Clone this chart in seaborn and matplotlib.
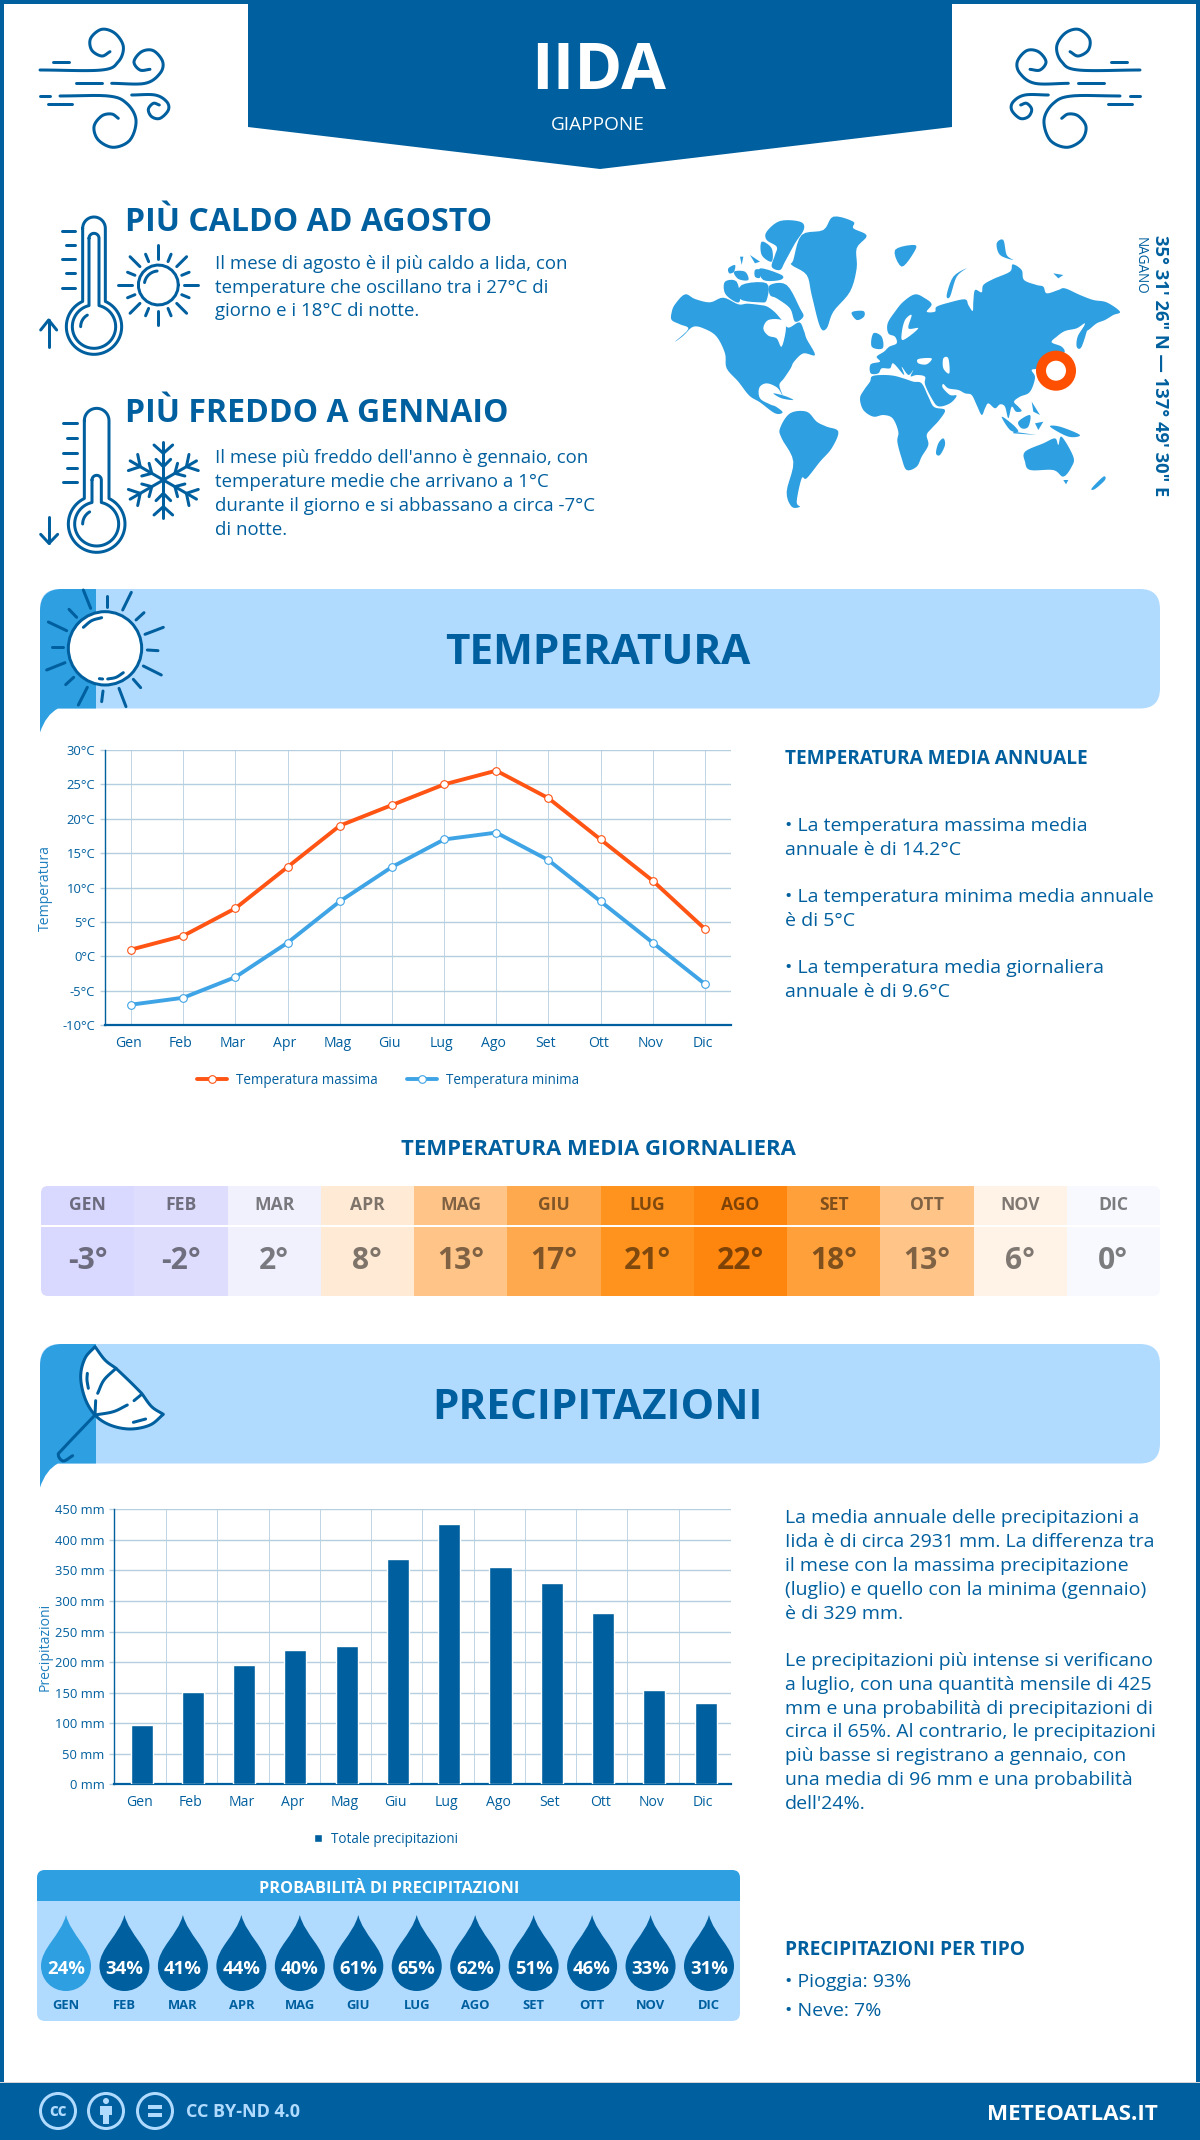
import numpy as np
import pandas as pd
import matplotlib
matplotlib.use("Agg")
import matplotlib.pyplot as plt
import seaborn as sns
from matplotlib.colors import ListedColormap
from matplotlib.patches import Polygon, Circle, PathPatch, FancyBboxPatch, Rectangle
from matplotlib.path import Path
from matplotlib.transforms import ScaledTranslation

# ---------- data ----------
months = ["Gen", "Feb", "Mar", "Apr", "Mag", "Giu", "Lug", "Ago", "Set", "Ott", "Nov", "Dic"]
months_upper = [m.upper() for m in months]
temp_max = [1, 3, 7, 13, 19, 22, 25, 27, 23, 17, 11, 4]
temp_min = [-7, -6, -3, 2, 8, 13, 17, 18, 14, 8, 2, -4]
temp_daily = [-3, -2, 2, 8, 13, 17, 21, 22, 18, 13, 6, 0]
precip_mm = [97, 151, 195, 220, 226, 369, 426, 356, 330, 280, 154, 133]
rain_prob = [24, 34, 41, 44, 40, 61, 65, 62, 51, 46, 33, 31]
temp_ticks = [-10, -5, 0, 5, 10, 15, 20, 25, 30]
temp_ticklabels = ["-10°C", "-5°C", "0°C", "5°C", "10°C", "15°C", "20°C", "25°C", "30°C"]
precip_ticks = [0, 50, 100, 150, 200, 250, 300, 350, 400, 450]
precip_ticklabels = ["0 mm", "50 mm", "100 mm", "150 mm", "200 mm", "250 mm", "300 mm", "350 mm", "400 mm", "450 mm"]
cell_colours = ["#D9D8FE", "#DEDDFE", "#F1F1FE", "#FFEAD6", "#FFC488", "#FFA94F",
                "#FF931E", "#FF860E", "#FFA03A", "#FFC488", "#FFF2E6", "#F8F9FE"]

BLUE = "#005F9E"
MID = "#2E9FE0"
LIGHT = "#B0DBFF"
ORANGE = "#FF5414"
LINEBLUE = "#3FA4E5"
GRID = "#B5CEE0"
F = ["Open Sans", "DejaVu Sans"]

sns.set_theme(style="white")
plt.rcParams["font.family"] = F

W, H = 1200, 2140
fig = plt.figure(figsize=(W / 100, H / 100), dpi=100, facecolor="white")
bg = fig.add_axes([0, 0, 1, 1], zorder=0)
bg.set_xlim(0, W)
bg.set_ylim(H, 0)
bg.axis("off")


def T(x, y, s, px, color=BLUE, weight="normal", ha="left", va="baseline", rot=0, alpha=None):
    return bg.text(x, y, s, fontsize=px * 0.72, color=color, fontweight=weight, ha=ha, va=va,
                   rotation=rot, alpha=alpha, family=F, rotation_mode="anchor")


def stroke(pts, lw=3, color=BLUE, z=3):
    pts = np.asarray(pts, float)
    bg.plot(pts[:, 0], pts[:, 1], color=color, lw=lw * 0.72, solid_capstyle="round",
            solid_joinstyle="round", zorder=z)


def spline(pts, n=14):
    p = np.asarray(pts, float)
    p = np.vstack([2 * p[0] - p[1], p, 2 * p[-1] - p[-2]])
    out = []
    for i in range(1, len(p) - 2):
        for t in np.linspace(0, 1, n, endpoint=False):
            a, b, c, d = p[i - 1], p[i], p[i + 1], p[i + 2]
            out.append(0.5 * ((2 * b) + (-a + c) * t + (2 * a - 5 * b + 4 * c - d) * t ** 2
                              + (-a + 3 * b - 3 * c + d) * t ** 3))
    out.append(p[-2])
    return np.array(out)


def closed_spline(pts, n=5):
    p = np.asarray(pts, float)
    q = np.vstack([p[-1], p, p[0], p[1]])
    out = []
    for i in range(1, len(q) - 2):
        for t in np.linspace(0, 1, n, endpoint=False):
            a, b, c, d = q[i - 1], q[i], q[i + 1], q[i + 2]
            out.append(0.5 * ((2 * b) + (-a + c) * t + (2 * a - 5 * b + 4 * c - d) * t ** 2
                              + (-a + 3 * b - 3 * c + d) * t ** 3))
    return np.array(out)


def zoom(pts, ox, oy):
    return np.asarray(pts, float) / 3 + [ox, oy]


def rpoly(x0, y0, x1, y1, r, **kw):
    return FancyBboxPatch((x0 + r, y0 + r), x1 - x0 - 2 * r, y1 - y0 - 2 * r,
                          boxstyle=f"round,pad={r},rounding_size={r}", **kw)


# ---------- frame and header ----------
bg.add_patch(Rectangle((0, 0), 4, H, color=BLUE, lw=0))
bg.add_patch(Rectangle((1196, 0), 4, H, color=BLUE, lw=0))
bg.add_patch(Rectangle((0, 0), W, 4, color=BLUE, lw=0))
bg.add_patch(Polygon([(248, 0), (952, 0), (952, 127), (600, 169), (248, 127)], color=BLUE, lw=0))
T(599, 89, "IIDA", 65, "white", "bold", ha="center")
T(598, 130, "GIAPPONE", 19, "white", ha="center")

# wind icons
wind = [
    [(30, 150), (215, 150), (265, 125), (280, 80), (255, 40), (215, 28), (182, 55), (185, 90), (215, 108), (240, 95)],
    [(245, 190), (345, 190), (390, 160), (398, 125), (370, 92), (335, 95), (312, 125), (330, 150), (360, 148)],
    [(90, 228), (235, 228), (290, 250), (318, 300), (300, 360), (250, 382), (205, 360), (192, 320), (215, 288), (245, 282), (265, 295)],
    [(305, 225), (375, 225), (410, 245), (415, 270), (390, 295), (365, 290), (355, 268), (370, 250), (388, 255)],
]
wind_bars = [[(138, 190), (215, 190)], [(68, 125), (118, 125)], [(30, 228), (60, 228)], [(55, 252), (125, 252)]]
for mirror in (False, True):
    for w in wind:
        xy = zoom(spline(w), 30, 20)
        if mirror:
            xy[:, 0] = 1180 - xy[:, 0]
        stroke(xy)
    for w in wind_bars:
        xy = zoom(w, 30, 20)
        if mirror:
            xy[:, 0] = 1180 - xy[:, 0]
        stroke(xy)


# ---------- thermometers ----------
def therm_outline(cx, h, top, by, R):
    a = np.arcsin(h / R)
    t = np.linspace(np.pi, 0, 24)
    cap = np.c_[cx + h * np.cos(t), top + h - h * np.sin(t)]
    th = np.linspace(-np.pi / 2 + a, 1.5 * np.pi - a, 60)
    bulb = np.c_[cx + R * np.cos(th), by + R * np.sin(th)]
    return np.vstack([cap, bulb, cap[:1]])


def arc(cx, cy, r, a0, a1):
    t = np.radians(np.linspace(a0, a1, 24))
    return np.c_[cx + r * np.cos(t), cy + r * np.sin(t)]


ox, oy = 30, 205
stroke(zoom(therm_outline(192, 34, 36, 365, 83), ox, oy))
stroke(zoom(therm_outline(192, 15, 85, 365, 65), ox, oy))
stroke(zoom(arc(192, 365, 40, 180, 240), ox, oy))
for y, x0 in zip((77, 120, 162, 205, 248), (97, 108, 97, 108, 97)):
    stroke(zoom([(x0, y), (135, y)], ox, oy))
stroke(zoom([(56, 425), (56, 345)], ox, oy))
stroke(zoom([(32, 375), (56, 345), (80, 375)], ox, oy))
scx, scy = 385, 240
stroke(zoom(arc(scx, scy, 60, 0, 360), ox, oy))
stroke(zoom(arc(scx, scy, 42, 190, 265), ox, oy))
for k in range(16):
    ang = np.radians(k * 22.5)
    r0, r1 = (76, 100) if k % 2 else (78, 120)
    stroke(zoom([(scx + r0 * np.cos(ang), scy + r0 * np.sin(ang)),
                 (scx + r1 * np.cos(ang), scy + r1 * np.sin(ang))], ox, oy))

ox, oy = 30, 400
stroke(zoom(therm_outline(200, 37, 25, 372, 85), ox, oy))
inner = therm_outline(200, 14, 226, 372, 66)
stroke(zoom(inner, ox, oy))
stroke(zoom(arc(200, 372, 42, 180, 240), ox, oy))
for y, x0 in zip((70, 115, 158, 203, 247), (100, 110, 100, 110, 100)):
    stroke(zoom([(x0, y), (140, y)], ox, oy))
stroke(zoom([(57, 350), (57, 430)], ox, oy))
stroke(zoom([(32, 403), (57, 430), (83, 403)], ox, oy))
fx, fy = 400, 240
for k in range(6):
    ang = np.radians(60 * k)
    c, s = np.cos(ang), np.sin(ang)
    rot = lambda p: (fx + p[0] * c - p[1] * s, fy + p[0] * s + p[1] * c)
    stroke(zoom([rot(p) for p in [(0, 0), (0, -115)]], ox, oy))
    stroke(zoom([rot(p) for p in [(-28, -105), (0, -80), (28, -105)]], ox, oy))
    stroke(zoom([rot(p) for p in [(-22, -62), (0, -40), (22, -62)]], ox, oy))

T(125, 231, "PIÙ CALDO AD AGOSTO", 32, BLUE, "bold")
T(125, 422, "PIÙ FREDDO A GENNAIO", 32, BLUE, "bold")
for y, s in zip((269, 293, 316), ("Il mese di agosto è il più caldo a Iida, con",
                                  "temperature che oscillano tra i 27°C di",
                                  "giorno e i 18°C di notte.")):
    T(215, y, s, 18.7)
for y, s in zip((463, 487, 511, 535), ("Il mese più freddo dell'anno è gennaio, con",
                                       "temperature medie che arrivano a 1°C",
                                       "durante il giorno e si abbassano a circa -7°C",
                                       "di notte.")):
    T(215, y, s, 18.7)

# ---------- world map (outline drawing, zoom coordinates) ----------
land = [
    # North America
    [(35, 322), (45, 298), (75, 268), (105, 282), (150, 292), (190, 278), (235, 298), (262, 296), (300, 300), (322, 305),
     (345, 322), (365, 345), (385, 368), (418, 352), (432, 378), (440, 402), (465, 450), (430, 445), (402, 470), (392, 490),
     (372, 520), (358, 540), (368, 572), (352, 548), (320, 535), (298, 548), (300, 580), (330, 598), (348, 605), (368, 622),
     (345, 625), (300, 592), (268, 572), (235, 530), (200, 490), (195, 445), (170, 395), (135, 372), (100, 365), (70, 392),
     (45, 410), (85, 372), (60, 358), (35, 345)],
    # Arctic islands
    [(320, 80), (360, 48), (420, 50), (432, 72), (405, 115), (375, 170), (360, 195), (335, 185), (345, 150), (350, 125), (320, 105)],
    [(305, 110), (335, 130), (335, 170), (305, 150)],
    [(330, 240), (380, 240), (420, 310), (430, 335), (405, 350), (390, 310), (350, 280), (330, 270)],
    [(195, 230), (230, 230), (240, 285), (225, 290), (195, 265)],
    [(222, 200), (255, 200), (265, 225), (235, 222)],
    [(205, 190), (225, 180), (222, 200), (208, 205)],
    [(285, 195), (300, 195), (300, 218), (285, 215)],
    [(300, 190), (365, 210), (360, 225), (310, 225)],
    [(240, 155), (250, 155), (245, 180)],
    [(270, 150), (300, 170), (285, 175)],
    [(245, 240), (320, 235), (320, 285), (300, 292), (240, 282)],
    # Greenland, Iceland
    [(400, 165), (425, 90), (490, 75), (520, 35), (580, 50), (580, 70), (620, 92), (590, 130), (590, 190), (570, 260),
     (520, 320), (500, 370), (480, 365), (455, 270), (440, 210), (395, 180)],
    [(575, 322), (610, 318), (612, 335), (590, 345)],
    # South America
    [(360, 670), (390, 625), (440, 620), (470, 650), (500, 665), (535, 680), (515, 730), (480, 770), (440, 820), (425, 820),
     (410, 890), (420, 905), (395, 905), (380, 860), (400, 770), (365, 700)],
    [(340, 565), (375, 573), (400, 585), (365, 580)],
    # Africa
    [(600, 580), (612, 555), (630, 530), (636, 514), (665, 510), (700, 512), (730, 520), (760, 530), (785, 535), (805, 575),
     (822, 606), (855, 615), (838, 645), (815, 670), (800, 690), (805, 720), (785, 755), (770, 785), (740, 795), (725, 760),
     (712, 710), (715, 680), (698, 640), (670, 630), (640, 635), (610, 615)],
    [(850, 700), (855, 720), (840, 750), (828, 745), (835, 715)],
    # Eurasia
    [(632, 505), (632, 478), (660, 470), (650, 455), (672, 440), (688, 425), (710, 415), (705, 395), (685, 385), (683, 355),
     (705, 320), (730, 290), (765, 268), (795, 280), (815, 298), (800, 320), (825, 320), (830, 305), (870, 292), (915, 283),
     (925, 300), (938, 318), (940, 290), (945, 255), (965, 262), (970, 240), (1000, 222), (1050, 200), (1058, 178), (1085, 195),
     (1092, 225), (1130, 240), (1150, 245), (1160, 265), (1195, 255), (1215, 250), (1260, 270), (1300, 285), (1340, 292),
     (1380, 320), (1360, 330), (1335, 345), (1310, 355), (1285, 375), (1262, 385), (1275, 355), (1250, 370), (1215, 378),
     (1190, 395), (1175, 412), (1205, 425), (1212, 445), (1170, 470), (1135, 490), (1115, 495), (1125, 515), (1118, 545),
     (1105, 565), (1080, 575), (1062, 590), (1075, 605), (1085, 618), (1068, 620), (1055, 605), (1045, 640), (1035, 605),
     (1020, 598), (1005, 610), (985, 595), (975, 610), (965, 630), (950, 600), (935, 570), (915, 565), (895, 555), (865, 550),
     (850, 537), (848, 548), (870, 570), (890, 572), (870, 595), (835, 604), (815, 580), (795, 538), (795, 515), (770, 510),
     (752, 514), (760, 495), (745, 510), (725, 485), (732, 510), (700, 475), (690, 490), (665, 490), (655, 505)],
    # other islands
    [(640, 385), (665, 395), (668, 430), (635, 425)],
    [(705, 135), (765, 120), (760, 145), (725, 185)],
    [(860, 270), (880, 215), (920, 190), (890, 215), (870, 275)],
    [(1010, 115), (1030, 105), (1040, 150), (1060, 165), (1020, 150)],
    [(1180, 205), (1210, 210), (1195, 220)],
    [(1255, 390), (1285, 355), (1265, 425), (1250, 425)],
    [(1115, 590), (1140, 630), (1120, 620)],
    [(1025, 635), (1060, 660), (1075, 680), (1050, 675)],
    [(1075, 650), (1110, 630), (1105, 665), (1085, 670)],
    [(1060, 680), (1130, 690), (1060, 685)],
    [(1170, 665), (1200, 665), (1260, 690), (1225, 695)],
    [(1125, 655), (1150, 650), (1135, 675)],
    # Australia, Tasmania, New Zealand
    [(1095, 740), (1150, 715), (1185, 700), (1195, 720), (1205, 695), (1240, 755), (1235, 785), (1210, 815), (1180, 795),
     (1110, 795), (1095, 770)],
    [(1210, 825), (1225, 825), (1218, 838)],
    [(1295, 850), (1330, 815), (1335, 825), (1305, 852)],
]
water = [
    [(775, 462), (815, 460), (800, 478), (775, 475)],
    [(850, 460), (865, 460), (868, 505), (850, 490)],
    [(735, 345), (755, 330), (745, 370), (775, 370), (730, 405), (725, 385)],
    [(310, 370), (325, 345), (365, 345), (378, 368), (365, 425), (350, 400), (325, 392)],
]
for poly in land:
    shape = closed_spline(poly) if len(poly) > 3 else np.asarray(poly, float)
    bg.add_patch(Polygon(zoom(shape, 660, 205), closed=True, fc=MID, ec="none", lw=0, zorder=2))
for poly in water:
    bg.add_patch(Polygon(zoom(closed_spline(poly), 660, 205), closed=True, fc="white", ec="none", lw=0, zorder=2.1))
bg.add_patch(Circle((1056, 370.7), 15, fill=False, ec="#FF4F00", lw=10 * 0.72, zorder=3))
T(1155, 235, "35° 31' 26\" N — 137° 49' 30\" E", 18.4, BLUE, "bold", rot=-90)
T(1137, 237, "NAGANO", 13.5, BLUE, rot=-90)


# ---------- banners ----------
def banner(top, title):
    bot = top + 119.5
    bg.add_patch(rpoly(40, top, 1160, bot, 20, fc=LIGHT, ec="none", lw=0, zorder=1))
    p = Path([(96, top), (62, top), (40, top), (40, top + 22), (40, bot + 24), (46, bot + 6), (58, bot), (75, bot), (96, bot), (96, top)],
             [Path.MOVETO, Path.LINETO, Path.CURVE3, Path.CURVE3, Path.LINETO, Path.CURVE3, Path.CURVE3, Path.LINETO, Path.LINETO, Path.CLOSEPOLY])
    bg.add_patch(PathPatch(p, fc=MID, ec="none", lw=0, zorder=1.5))
    T(598, top + 75, title, 42.3, BLUE, "bold", ha="center")


banner(589, "TEMPERATURA")
banner(1344, "PRECIPITAZIONI")

ox, oy = 30, 580
bg.add_patch(Circle(zoom([(225, 205)], ox, oy)[0], 110 / 3, fc="white", ec=BLUE, lw=3 * 0.72, zorder=3))
rays = [[(160, 30), (182, 85)], [(117, 88), (140, 112)], [(55, 126), (110, 152)], [(65, 200), (98, 200)],
        [(50, 270), (105, 248)], [(107, 314), (131, 292)], [(145, 375), (172, 322)], [(215, 365), (219, 333)],
        [(288, 380), (267, 325)], [(332, 323), (310, 298)], [(394, 285), (340, 258)], [(384, 212), (352, 210)],
        [(400, 142), (345, 163)], [(342, 98), (318, 120)], [(304, 37), (278, 90)], [(230, 47), (230, 80)]]
for r in rays:
    stroke(zoom(r, ox, oy))
stroke(zoom(spline([(160, 142), (185, 122), (215, 113)]), ox, oy))
stroke(zoom([(208, 296), (218, 297)], ox, oy))
stroke(zoom(spline([(233, 297), (258, 292), (280, 278)]), ox, oy))

ox, oy = 30, 1335
canopy = np.vstack([spline([(195, 35), (165, 70), (152, 125), (165, 190), (195, 240), (240, 270), (300, 282), (360, 270), (400, 238)]),
                    spline([(400, 238), (365, 215), (335, 175)]),
                    spline([(335, 175), (300, 140), (258, 100)]),
                    spline([(258, 100), (225, 75), (195, 35)])])
bg.add_patch(Polygon(zoom(canopy, ox, oy), closed=True, fc="white", ec=BLUE, lw=3 * 0.72, zorder=3, joinstyle="round"))
stroke(zoom(spline([(195, 240), (250, 230), (292, 210)]), ox, oy), z=4)
stroke(zoom([(312, 197), (335, 178)], ox, oy), z=4)
stroke(zoom([(195, 240), (197, 197)], ox, oy), z=4)
stroke(zoom(spline([(203, 175), (222, 135), (258, 100)]), ox, oy), z=4)
stroke(zoom(spline([(172, 115), (171, 135), (175, 160)]), ox, oy), z=4)
stroke(zoom([(310, 262), (347, 252)], ox, oy), z=4)
stroke(zoom(spline([(195, 240), (100, 340), (85, 360), (100, 378), (128, 362)]), ox, oy), z=4)


# ---------- axes helper ----------
def pixel_axes(x0, y0, x1, y1):
    return fig.add_axes([x0 / W, 1 - y1 / H, (x1 - x0) / W, (y1 - y0) / H], zorder=2, facecolor="none")


def style_chart(ax, yticks, ylabels, ylim):
    ax.set_ylim(*ylim)
    ax.set_yticks(yticks)
    ax.set_yticklabels(ylabels)
    ax.tick_params(axis="y", length=5 * 0.72, width=1.0, color=GRID, pad=3.4, labelsize=13 * 0.72, labelcolor=BLUE, left=True)
    ax.yaxis.get_major_ticks()[0].tick1line.set_color(BLUE)
    for sp in ("top", "right"):
        ax.spines[sp].set_visible(False)
    ax.spines["bottom"].set_color(BLUE)
    ax.spines["bottom"].set_linewidth(1.6)
    ax.spines["left"].set_color(BLUE)
    ax.spines["left"].set_linewidth(1.0)
    ax.set_axisbelow(True)
    ax.grid(True, axis="y", color=GRID, lw=1.0)
    ax.set_xlabel("")


def shift_xlabels(ax):
    off = ScaledTranslation(-2.5 / 100, 0, fig.dpi_scale_trans)
    for lab in ax.get_xticklabels():
        lab.set_transform(lab.get_transform() + off)


# ---------- temperature chart ----------
t_df = pd.DataFrame({
    "Mese": months * 2,
    "Temperatura": temp_max + temp_min,
    "Serie": ["Temperatura massima"] * 12 + ["Temperatura minima"] * 12,
})
ax = pixel_axes(105, 750, 731, 1025.3)
sns.lineplot(data=t_df, x="Mese", y="Temperatura", hue="Serie", palette=[ORANGE, LINEBLUE], marker="o", sort=False,
             errorbar=None, linewidth=2.8, markersize=5.5, ax=ax)
for ln in ax.lines:
    ln.set_markerfacecolor("white")
    ln.set_markeredgecolor(ln.get_color())
    ln.set_markeredgewidth(0.8)
ax.set_xlim(-0.5, 11.5)
style_chart(ax, temp_ticks, temp_ticklabels, (-10, 30))
ax.grid(True, axis="x", color=GRID, lw=0.6)
ax.tick_params(axis="x", length=0, pad=8, labelsize=14 * 0.72, labelcolor=BLUE, bottom=False)
shift_xlabels(ax)
ax.set_ylabel("Temperatura", fontsize=14 * 0.72, color="#1F7FBE")
ax.yaxis.set_label_coords((53 - 105) / 626, 0.5)
handles, labels = ax.get_legend_handles_labels()
for h in handles:
    h.set_markerfacecolor("white")
    h.set_markeredgecolor(h.get_color())
    h.set_markeredgewidth(0.8)
ax.legend(handles, labels, loc="center", bbox_to_anchor=(0.452, -0.2), ncol=2, frameon=False, fontsize=13.5 * 0.72,
          labelcolor=BLUE, handlelength=2.2, handletextpad=0.65, columnspacing=2.2, borderpad=0)

T(785, 764, "TEMPERATURA MEDIA ANNUALE", 19, BLUE, "bold")
for y, s in zip((831, 855, 902, 926, 973, 997), ("• La temperatura massima media", "annuale è di 14.2°C",
                                                 "• La temperatura minima media annuale", "è di 5°C",
                                                 "• La temperatura media giornaliera", "annuale è di 9.6°C")):
    T(785, y, s, 19.5)

# ---------- daily temperature table ----------
T(598, 1155, "TEMPERATURA MEDIA GIORNALIERA", 22.2, BLUE, "bold", ha="center")
cmap = ListedColormap(cell_colours)
idx = np.arange(12).reshape(1, 12)
ax_h = pixel_axes(41, 1186, 1160, 1225)
sns.heatmap(idx, annot=np.array([months_upper]), fmt="", cmap=cmap, vmin=0, vmax=11, cbar=False, xticklabels=False,
            yticklabels=False, ax=ax_h, annot_kws=dict(fontsize=17.5 * 0.72, fontweight="bold", color="black", alpha=0.5))
ax_v = pixel_axes(41, 1226.5, 1160, 1296)
sns.heatmap(idx, annot=np.array([[f"{v}°" for v in temp_daily]]), fmt="", cmap=cmap, vmin=0, vmax=11, cbar=False,
            xticklabels=False, yticklabels=False, ax=ax_v,
            annot_kws=dict(fontsize=30 * 0.72, fontweight="bold", color="black", alpha=0.5))
clip = rpoly(41, 1186, 1160, 1296, 7, transform=bg.transData)
for a in (ax_h, ax_v):
    a.collections[0].set_clip_path(clip)

# ---------- precipitation chart ----------
p_df = pd.DataFrame({"Mese": months, "Precipitazioni": precip_mm})
ax2 = pixel_axes(114, 1509.3, 731, 1784.3)
sns.barplot(data=p_df, x="Mese", y="Precipitazioni", color=BLUE, saturation=1, width=0.43, ax=ax2,
            label="Totale precipitazioni", zorder=3)
ax2.set_xlim(-0.538, 11.495)
style_chart(ax2, precip_ticks, precip_ticklabels, (0, 450))
ax2.set_xticks(np.arange(11) + 0.476, minor=True)
ax2.grid(True, axis="x", which="minor", color=GRID, lw=0.6)
ax2.grid(False, axis="x", which="major")
ax2.tick_params(axis="x", which="both", length=0, pad=8, labelsize=14 * 0.72, labelcolor=BLUE, bottom=False)
shift_xlabels(ax2)
ax2.set_ylabel("Precipitazioni", fontsize=14 * 0.72, color="#1F7FBE")
ax2.yaxis.set_label_coords((53 - 114) / 617, 0.5)
ax2.legend(loc="center", bbox_to_anchor=(0.441, -0.2), frameon=False, fontsize=13.5 * 0.72, labelcolor=BLUE,
           handlelength=0.62, handleheight=0.62, handletextpad=0.65, borderpad=0)

para1 = ["La media annuale delle precipitazioni a", "Iida è di circa 2931 mm. La differenza tra",
         "il mese con la massima precipitazione", "(luglio) e quello con la minima (gennaio)", "è di 329 mm."]
para2 = ["Le precipitazioni più intense si verificano", "a luglio, con una quantità mensile di 425",
         "mm e una probabilità di precipitazioni di", "circa il 65%. Al contrario, le precipitazioni",
         "più basse si registrano a gennaio, con", "una media di 96 mm e una probabilità", "dell'24%."]
for y, s in zip((1523, 1547, 1571, 1595, 1619), para1):
    T(785, y, s, 19.5)
for y, s in zip((1666, 1690, 1714, 1737, 1761, 1785, 1809), para2):
    T(785, y, s, 19.5)

# ---------- rain probability panel ----------
bg.add_patch(rpoly(37, 1870, 740, 2021, 8, fc=LIGHT, ec="none", lw=0, zorder=1))
hdr = rpoly(37, 1870, 740, 1930, 8, fc=MID, ec="none", lw=0, zorder=1.2)
bg.add_patch(hdr)
bg.add_patch(Rectangle((37, 1901), 703, 32, fc=LIGHT, ec="none", lw=0, zorder=1.3))
T(389, 1893, "PROBABILITÀ DI PRECIPITAZIONI", 16.2, "white", "bold", ha="center")
drop_x = np.linspace(66, 709, 12)
for cx, pr, m in zip(drop_x, rain_prob, months_upper):
    v = [(cx, 1915), (cx + 5, 1935), (cx + 25, 1948), (cx + 25, 1966), (cx + 25, 1980), (cx + 14, 1991), (cx, 1991),
         (cx - 14, 1991), (cx - 25, 1980), (cx - 25, 1966), (cx - 25, 1948), (cx - 5, 1935), (cx, 1915)]
    c = [Path.MOVETO] + [Path.CURVE4] * 12
    bg.add_patch(PathPatch(Path(v, c), fc=MID if pr < 30 else BLUE, ec="none", lw=0, zorder=2))
    T(cx, 1974, f"{pr}%", 18.5, "white", "bold", ha="center").set_zorder(3)
    T(cx, 2009, m, 13, BLUE, "bold", ha="center")

T(785, 1955, "PRECIPITAZIONI PER TIPO", 19.1, BLUE, "bold")
T(785, 1987, "• Pioggia: 93%", 19.5)
T(785, 2016, "• Neve: 7%", 19.5)

# ---------- footer ----------
bg.add_patch(Rectangle((0, 2082), W, 1.5, fc="#D5D5D5", ec="none", lw=0, zorder=1))
bg.add_patch(Rectangle((0, 2083), W, 57, fc=BLUE, ec="none", lw=0, zorder=1))
for cx in (58, 106, 155):
    bg.add_patch(Circle((cx, 2111), 17.5, fc="none", ec=LIGHT, lw=3 * 0.72, zorder=2))
T(58, 2116, "cc", 17, LIGHT, "bold", ha="center")
bg.add_patch(Circle((106, 2101), 3, fc=LIGHT, ec="none", zorder=2))
bg.add_patch(Rectangle((100, 2106), 12, 9, fc=LIGHT, ec="none", zorder=2))
bg.add_patch(Rectangle((103, 2112), 6, 12, fc=LIGHT, ec="none", zorder=2))
bg.add_patch(Rectangle((148, 2105), 14, 4, fc=LIGHT, ec="none", zorder=2))
bg.add_patch(Rectangle((148, 2113), 14, 4, fc=LIGHT, ec="none", zorder=2))
T(186, 2117, "CC BY-ND 4.0", 18, LIGHT, "bold")
T(1158, 2120, "METEOATLAS.IT", 22.4, "white", "bold", ha="right")

fig.savefig("out.png", dpi=100, facecolor="white")
